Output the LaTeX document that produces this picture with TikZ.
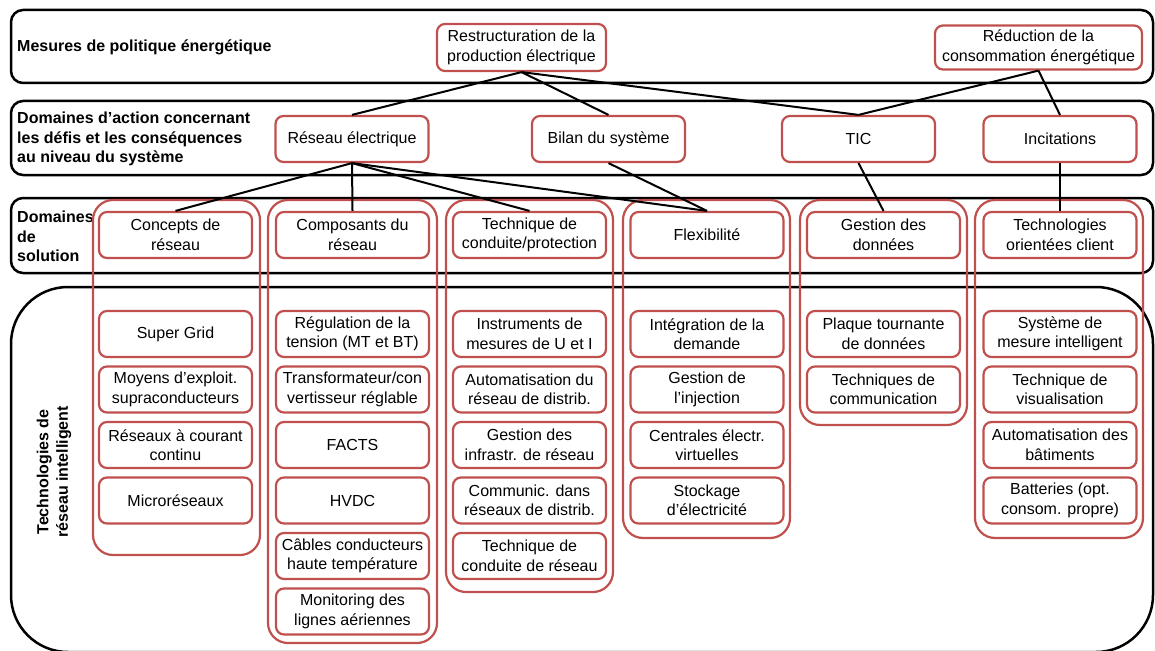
\documentclass[tikz,border=0pt]{standalone}
\usepackage{fontspec}
\setmainfont{Liberation Sans}
\usetikzlibrary{positioning}
\definecolor{boxred}{RGB}{192,80,77}

\tikzset{
  band/.style={draw=black, line width=2.5pt, rounded corners=12pt},
  column/.style={draw=boxred, line width=2.2pt, rounded corners=20pt},
  item/.style={draw=boxred, line width=2.2pt, rounded corners=8pt, minimum width=153pt,
    minimum height=46pt, inner sep=0pt, align=center, font=\fontsize{16}{19.5}\selectfont},
  lbl/.style={font=\bfseries\fontsize{16}{19.5}\selectfont, align=left, anchor=west, inner sep=0pt},
  link/.style={line width=2pt}
}

\begin{document}
\begin{tikzpicture}[x=1pt, y=-1pt]
  \useasboundingbox (0,0) rectangle (1155,650);
  \clip (0,0) rectangle (1155,650);

  % bands
  \draw[band] (11,10) rectangle (1153,83);
  \draw[band] (11,101) rectangle (1153,175);
  \draw[band] (11,198) rectangle (1153,273);
  \draw[band, rounded corners=57pt] (11,287) rectangle (1153,652);

  \node[lbl] (l1) at (17,47.5) {Mesures de politique énergétique};
  \node[lbl] (l2) at (17,139) {Domaines d’action concernant\\les défis et les conséquences\\au niveau du système};
  \node[lbl] (l3) at (17,236.5) {Domaines\\de\\solution};
  \node[lbl, anchor=center, align=center, rotate=90] (l4) at (54,472) {Technologies de\\réseau intelligent};

  % columns
  \draw[column] (93,200) rectangle (260,555);
  \draw[column] (268,200) rectangle (437,643);
  \draw[column] (446,200) rectangle (613,592);
  \draw[column] (623,200) rectangle (790,538);
  \draw[column] (800,200) rectangle (967,425);
  \draw[column] (975,200) rectangle (1143,538);

  % policy measures
  \node[item, minimum width=169pt, minimum height=47pt] (restr) at (521.5,47.5) {Restructuration de la\\production électrique};
  \node[item, minimum width=207pt, minimum height=44pt] (reduc) at (1038.5,47.5) {Réduction de la\\consommation énergétique};

  % fields of action
  \node[item] (reseau) at (352,139) {Réseau électrique};
  \node[item] (bilan) at (608.5,139) {Bilan du système};
  \node[item] (tic) at (858.5,139) {TIC};
  \node[item] (incit) at (1060,139) {Incitations};

  % solution domains
  \node[item] (concepts) at (175.5,235) {Concepts de\\réseau};
  \node[item] (composants) at (352.5,235) {Composants du\\réseau};
  \node[item] (conduite) at (529.5,235) {Technique de\\conduite/protection};
  \node[item] (flex) at (707,235) {Flexibilité};
  \node[item] (donnees) at (883.5,235) {Gestion des\\données};
  \node[item] (client) at (1060,235) {Technologies\\orientées client};

  % technologies
  \foreach \txt [count=\i] in {{Super Grid}, {Moyens d’exploit.\\supraconducteurs},
      {Réseaux à courant\\continu}, {Microréseaux}}
    \node[item] (concepts-\i) at (175.5,{334+55.5*(\i-1)}) {\txt};
  \foreach \txt [count=\i] in {{Régulation de la\\tension (MT et BT)}, {Transformateur/con\\vertisseur réglable},
      {FACTS}, {HVDC}, {Câbles conducteurs\\haute température}, {Monitoring des\\lignes aériennes}}
    \node[item] (composants-\i) at (352.5,{334+55.5*(\i-1)}) {\txt};
  \foreach \txt [count=\i] in {{Instruments de\\mesures de U et I}, {Automatisation du\\réseau de distrib.},
      {Gestion des\\infrastr. de réseau}, {Communic. dans\\réseaux de distrib.}, {Technique de\\conduite de réseau}}
    \node[item] (conduite-\i) at (529.5,{334+55.5*(\i-1)}) {\txt};
  \foreach \txt [count=\i] in {{Intégration de la\\demande}, {Gestion de\\l’injection},
      {Centrales électr.\\virtuelles}, {Stockage\\d’électricité}}
    \node[item] (flex-\i) at (707,{334+55.5*(\i-1)}) {\txt};
  \foreach \txt [count=\i] in {{Plaque tournante\\de données}, {Techniques de\\communication}}
    \node[item] (donnees-\i) at (883.5,{334+55.5*(\i-1)}) {\txt};
  \foreach \txt [count=\i] in {{Système de\\mesure intelligent}, {Technique de\\visualisation},
      {Automatisation des\\bâtiments}, {Batteries (opt.\\consom. propre)}}
    \node[item] (client-\i) at (1060,{334+55.5*(\i-1)}) {\txt};

  % links
  \draw[link] (restr.south) -- (reseau.north);
  \draw[link] (restr.south) -- (bilan.north);
  \draw[link] (restr.south) -- (tic.north);
  \draw[link] (reduc.south) -- (tic.north);
  \draw[link] (reduc.south) -- (incit.north);
  \draw[link] (reseau.south) -- (concepts.north);
  \draw[link] (reseau.south) -- (composants.north);
  \draw[link] (reseau.south) -- (conduite.north);
  \draw[link] (reseau.south) -- (flex.north);
  \draw[link] (bilan.south) -- (flex.north);
  \draw[link] (tic.south) -- (donnees.north);
  \draw[link] (incit.south) -- (client.north);
\end{tikzpicture}
\end{document}
